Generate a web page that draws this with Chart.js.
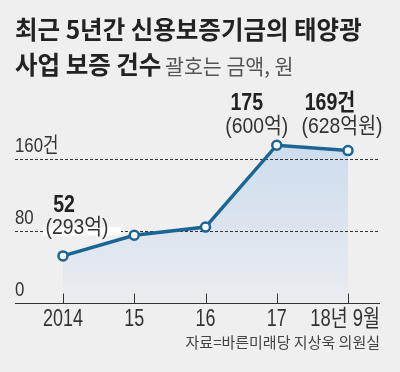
<!DOCTYPE html>
<html>
<head>
<meta charset="utf-8">
<script src="https://cdn.jsdelivr.net/npm/chart.js@4"></script>
<style>
  html, body { margin: 0; padding: 0; background: #efefef; }
  #wrap { position: relative; width: 400px; height: 372px; overflow: hidden; background: #efefef; }
  #chart { position: absolute; left: 0; top: 0; }
  .txt { position: absolute; white-space: nowrap; transform-origin: left top; font-family: "Noto Sans CJK KR", sans-serif; }
  #t1 { left: 15px; top: 16px; font-size: 25px; line-height: 25px; font-weight: bold; color: #222; transform: scaleX(0.98); }
  #t2 { left: 15px; top: 51px; font-size: 25px; line-height: 25px; font-weight: bold; color: #222; transform: scaleX(0.98); }
  #t2 span { font-size: 21px; font-weight: normal; color: #555; margin-left: -2px; }
  #src { right: 20px; top: 334px; font-size: 15px; line-height: 15px; color: #444; transform-origin: right top; transform: scaleX(1.0); }
</style>
</head>
<body>
<div id="wrap">
  <canvas id="chart" width="400" height="372"></canvas>
  <div class="txt" id="t1">최근 5년간 신용보증기금의 태양광</div>
  <div class="txt" id="t2">사업 보증 건수 <span>괄호는 금액, 원</span></div>
  <div class="txt" id="src">자료=바른미래당 지상욱 의원실</div>
</div>
<script>
const categories = ['2014', '15', '16', '17', '18년 9월'];
const counts = [52, 75, 84, 175, 169];
const countLabels = ['52', '', '', '175', '169건'];
const amountLabels = ['(293억)', '', '', '(600억)', '(628억원)'];
const yTicks = [0, 80, 160];
const yTickLabels = ['0', '80', '160건'];

// label offsets relative to each point (px)
const labelPos = [
  { dx: 1, main: -44, dxs: 14, sub: -22 },
  null, null,
  { dx: -30, main: -35, dxs: -20, sub: -12 },
  { dx: -18, main: -40.5, dxs: -6, sub: -17.5 }
];

const lineColor = '#1b6595';
const LEFT = 15, RIGHT = 380;

function drawText(ctx, text, x, y, size, weight, color, align, sx) {
  ctx.save();
  ctx.font = weight + ' ' + size + 'px "Liberation Sans", "Noto Sans CJK KR", sans-serif';
  ctx.fillStyle = color;
  ctx.textBaseline = 'alphabetic';
  const w = ctx.measureText(text).width * sx;
  let x0 = x;
  if (align === 'center') x0 = x - w / 2;
  if (align === 'right') x0 = x - w;
  ctx.translate(x0, y);
  ctx.scale(sx, 1);
  ctx.fillText(text, 0, 0);
  ctx.restore();
}

const decor = {
  id: 'decor',
  beforeDatasetsDraw(chart) {
    const ctx = chart.ctx;
    const ys = chart.scales.y;
    ctx.save();
    ctx.strokeStyle = '#333';
    ctx.lineWidth = 1;
    ctx.setLineDash([3, 2]);
    yTicks.forEach(v => {
      if (v === 0) return;
      const y = Math.round(ys.getPixelForValue(v)) + 0.5;
      ctx.beginPath();
      ctx.moveTo(LEFT, y);
      ctx.lineTo(RIGHT, y);
      ctx.stroke();
    });
    ctx.restore();
  },
  afterDatasetsDraw(chart) {
    const ctx = chart.ctx;
    const xs = chart.scales.x, ys = chart.scales.y;
    const y0 = Math.round(ys.getPixelForValue(0)) + 0.5;

    // axis line + ticks
    ctx.save();
    ctx.strokeStyle = '#333';
    ctx.lineWidth = 1.2;
    ctx.beginPath();
    ctx.moveTo(LEFT, y0);
    ctx.lineTo(RIGHT, y0);
    ctx.stroke();
    ctx.lineWidth = 1;
    categories.forEach((c, i) => {
      const x = Math.round(xs.getPixelForValue(i)) + 0.5;
      ctx.beginPath();
      ctx.moveTo(x, y0 - 10);
      ctx.lineTo(x, y0);
      ctx.stroke();
    });
    ctx.restore();

    // x labels
    categories.forEach((c, i) => {
      const x = xs.getPixelForValue(i);
      if (i === categories.length - 1) {
        drawText(ctx, c, RIGHT, y0 + 22, 23, 'normal', '#333', 'right', 0.8);
      } else {
        drawText(ctx, c, x, y0 + 22, 23, 'normal', '#333', 'center', 0.78);
      }
    });

    // y labels
    yTicks.forEach((v, i) => {
      const y = ys.getPixelForValue(v);
      drawText(ctx, yTickLabels[i], LEFT, y - 7, 21, 'normal', '#333', 'left', 0.8);
    });

    // value labels
    const meta = chart.getDatasetMeta(0);
    counts.forEach((v, i) => {
      const p = labelPos[i];
      if (!p) return;
      const pt = meta.data[i];
      if (i === 0) {
        ctx.save();
        ctx.fillStyle = '#fff';
        ctx.fillRect(pt.x - 20, pt.y - 29, 78, 8.5);
        ctx.restore();
      }
      drawText(ctx, countLabels[i], pt.x + p.dx, pt.y + p.main, 23, 'bold', '#222', 'center', 0.85);
      drawText(ctx, amountLabels[i], pt.x + p.dxs, pt.y + p.sub, 21.5, 'normal', '#333', 'center', 0.9);
    });
  }
};

const ctx = document.getElementById('chart').getContext('2d');
const grad = ctx.createLinearGradient(0, 145, 0, 303);
grad.addColorStop(0, '#cddcee');
grad.addColorStop(1, '#eaecef');

new Chart(ctx, {
  type: 'line',
  data: {
    labels: categories,
    datasets: [{
      data: counts,
      borderColor: lineColor,
      borderWidth: 3.5,
      backgroundColor: grad,
      fill: 'origin',
      tension: 0,
      pointRadius: 4.5,
      pointBorderWidth: 2.5,
      pointBackgroundColor: '#fff',
      pointBorderColor: lineColor,
      clip: false
    }]
  },
  options: {
    responsive: false,
    devicePixelRatio: 1,
    animation: false,
    layout: { autoPadding: false, padding: { left: 63, right: 52, top: 122.7, bottom: 69.3 } },
    plugins: {
      legend: { display: false },
      tooltip: { enabled: false },
      filler: { drawTime: 'beforeDatasetsDraw' }
    },
    scales: {
      x: { type: 'category', offset: false, display: false },
      y: { min: 0, max: 200, display: false }
    }
  },
  plugins: [decor]
});
</script>
</body>
</html>
